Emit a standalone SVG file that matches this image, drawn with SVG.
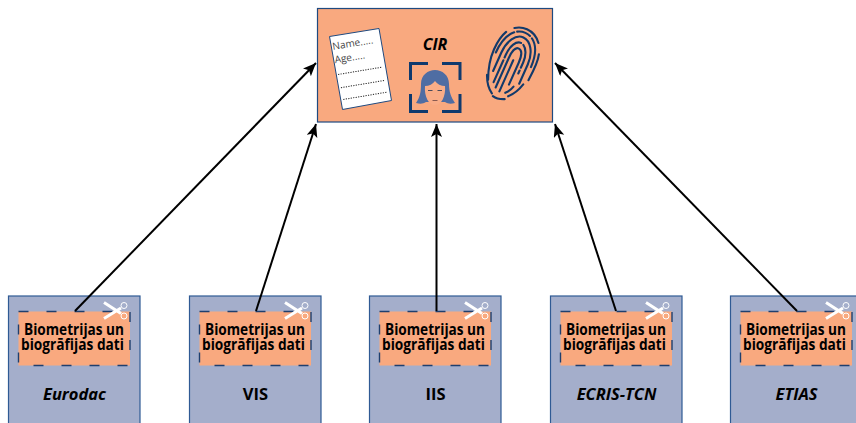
<svg xmlns="http://www.w3.org/2000/svg" width="856" height="423" viewBox="0 0 856 423">
<style>
text{font-family:"Open Sans","Noto Sans","Liberation Sans",sans-serif;fill:#000;text-anchor:middle}
.src{fill:#a4aecb;stroke:#2f5a94;stroke-width:1.2}
.fill{fill:#f9a97f}
.cut{fill:none;stroke:#1f3f6e;stroke-width:1.4;stroke-dasharray:10 18}
.bio{font-size:15.500px;font-weight:700}
.nm{font-size:16.500px;font-weight:700}
.it{font-style:italic}
.conn{fill:none;stroke:#000;stroke-width:2;marker-end:url(#ah)}
.fp{fill:none;stroke:#123a6b;stroke-width:2.100;stroke-linecap:round}
.br{fill:none;stroke:#0f3a6e;stroke-width:3}
.dots{fill:none;stroke:#222;stroke-width:1;stroke-dasharray:1.200 1.300}
.doc{font-size:10px;text-anchor:start;fill:#444}
</style>
<defs>
<marker id="ah" markerUnits="userSpaceOnUse" markerWidth="14" markerHeight="12" refX="13" refY="5.500" orient="auto"><path d="M0 0L13 5.500L0 11L3 5.500Z" fill="#000"/></marker>
<g id="sc" fill="none" stroke="#fff">
<path d="M0 0.500L17 11.500M0 16.500L17 6" stroke-width="3"/>
<circle cx="20" cy="3.500" r="3"/><circle cx="20" cy="14" r="3"/>
</g>
</defs>
<g id="cir">
<rect x="317.500" y="8.500" width="235" height="113.500" fill="#f9a97f" stroke="#1f4a80" stroke-width="1.200"/>
<text x="435" y="49.500" class="it" style="font-size:16px;font-weight:700">CIR</text>
<g id="doc">
<path d="M329.500 36.500L379 28.500L391.500 100.500L342.500 109.500Z" fill="#fff" stroke="#1f4a80" stroke-width="1"/>
<g transform="rotate(-9.500 333 50)">
<text class="doc" x="333" y="50">Name.....</text>
<text class="doc" x="333" y="63.500">Age.....</text>
<path class="dots" d="M334 75H378M334.600 88.500H379M335 100.500H379"/>
</g>
</g>
<g id="face">
<path class="br" d="M410.500 80V63.500H428M442 63.500H460V80M410.500 94V111.500H428M442 111.500H460V94"/>
<path d="M416 103C420 97 421 92 421 84C421 75 428 70 435 70C442 70 449 75 449 84C449 92 451 97 455 103C451 104 448 104 445 102L426 102C423 104 420 104 416 103Z" fill="#4f6da3"/>
<path d="M425 86C429 86 433 84 435 81C437 84 441 86 445 86C446 97 441 105 435 105C429 105 424 97 425 86Z" fill="#f9ad87"/>
<path d="M428 90.500H432.500M437.500 90.500H442" stroke="#4a4a5a" stroke-width="1.200" fill="none"/>
<path d="M432.500 100.500H437.500" stroke="#8a5a50" stroke-width="1" fill="none"/>
</g>
<g id="fingerprint" class="fp" transform="rotate(24 512 63)">
<path d="M493 60C493 41 501 30 512 30C523 30 531 41 531 60" stroke-dasharray="28 3 14 3 30 3"/>
<path d="M497 88C493 79 490 70 490 58C490 50 491 43 494 37M500 30C504 27 508 26 512 26C518 26 524 29 528 34M533 44C535 50 535 60 534 72"/>
<path d="M498 78V58C498 45 504 35 512 35C520 35 527 45 527 58V79"/>
<path d="M503 88V58C503 48 507 41 512 41C517 41 522 48 522 58V70" stroke-dasharray="24 3"/>
<path d="M507 92V60C507 52 509 47 512 47C516 47 518 52 518 60V84"/>
<path d="M512 94V60" />
<path d="M531 78C529 86 526 91 522 95M523 84C522 88 520 91 518 93M494 84C497 91 501 96 506 99M508 101C512 102 516 101 520 99"/>
</g>
</g>
<g id="eurodac">
<rect class="src" x="8.500" y="296" width="131.500" height="130"/>
<rect class="fill" x="18.500" y="311.500" width="111.500" height="54"/>
<rect class="cut" x="18.500" y="311.500" width="111.500" height="54"/>
<use href="#sc" x="104" y="302"/>
<text class="bio"><tspan x="74" y="335" textLength="100" lengthAdjust="spacingAndGlyphs">Biometrijas un</tspan><tspan x="72.500" y="349.500" textLength="103" lengthAdjust="spacingAndGlyphs">biogrāfijas dati</tspan></text>
<text class="nm it" x="74.500" y="400">Eurodac</text>
</g>
<g id="vis">
<rect class="src" x="189.500" y="296" width="131.500" height="130"/>
<rect class="fill" x="199.500" y="311.500" width="111.500" height="54"/>
<rect class="cut" x="199.500" y="311.500" width="111.500" height="54"/>
<use href="#sc" x="285" y="302"/>
<text class="bio"><tspan x="255" y="335" textLength="100" lengthAdjust="spacingAndGlyphs">Biometrijas un</tspan><tspan x="253.500" y="349.500" textLength="103" lengthAdjust="spacingAndGlyphs">biogrāfijas dati</tspan></text>
<text class="nm" x="255.500" y="400">VIS</text>
</g>
<g id="iis">
<rect class="src" x="369.500" y="296" width="131.500" height="130"/>
<rect class="fill" x="379.500" y="311.500" width="111.500" height="54"/>
<rect class="cut" x="379.500" y="311.500" width="111.500" height="54"/>
<use href="#sc" x="465" y="302"/>
<text class="bio"><tspan x="435" y="335" textLength="100" lengthAdjust="spacingAndGlyphs">Biometrijas un</tspan><tspan x="433.500" y="349.500" textLength="103" lengthAdjust="spacingAndGlyphs">biogrāfijas dati</tspan></text>
<text class="nm" x="435.500" y="400">IIS</text>
</g>
<g id="ecris">
<rect class="src" x="550.500" y="296" width="131.500" height="130"/>
<rect class="fill" x="560.500" y="311.500" width="111.500" height="54"/>
<rect class="cut" x="560.500" y="311.500" width="111.500" height="54"/>
<use href="#sc" x="646" y="302"/>
<text class="bio"><tspan x="616" y="335" textLength="100" lengthAdjust="spacingAndGlyphs">Biometrijas un</tspan><tspan x="614.500" y="349.500" textLength="103" lengthAdjust="spacingAndGlyphs">biogrāfijas dati</tspan></text>
<text class="nm it" x="616.500" y="400">ECRIS-TCN</text>
</g>
<g id="etias">
<rect class="src" x="730.500" y="296" width="131.500" height="130"/>
<rect class="fill" x="740.500" y="311.500" width="111.500" height="54"/>
<rect class="cut" x="740.500" y="311.500" width="111.500" height="54"/>
<use href="#sc" x="826" y="302"/>
<text class="bio"><tspan x="796" y="335" textLength="100" lengthAdjust="spacingAndGlyphs">Biometrijas un</tspan><tspan x="794.500" y="349.500" textLength="103" lengthAdjust="spacingAndGlyphs">biogrāfijas dati</tspan></text>
<text class="nm it" x="796.500" y="400">ETIAS</text>
</g>
<g id="connectors">
<path class="conn" d="M75 311L316 63"/>
<path class="conn" d="M256 311L316 124"/>
<path class="conn" d="M436.500 311V124"/>
<path class="conn" d="M616 311L555 124"/>
<path class="conn" d="M797 311L555 63"/>
</g>
</svg>
